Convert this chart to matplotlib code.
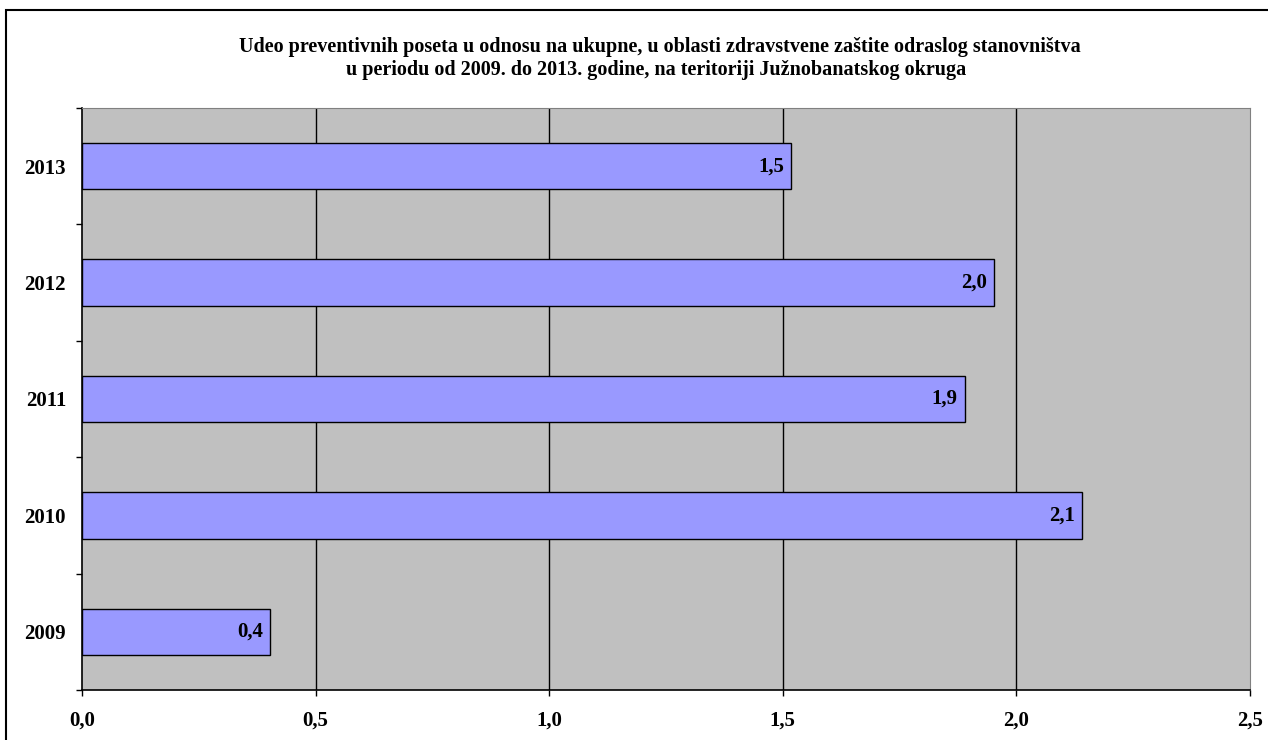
import matplotlib.pyplot as plt
from matplotlib.patches import Rectangle
import numpy as np

years = ["2009", "2010", "2011", "2012", "2013"]
values = [0.403, 2.14, 1.889, 1.953, 1.518]
xticks = [0.0, 0.5, 1.0, 1.5, 2.0, 2.5]

plt.rcParams['font.family'] = ['Liberation Serif', 'DejaVu Serif']
plt.rcParams['font.weight'] = 'bold'

fig = plt.figure(figsize=(12.68, 7.40), dpi=100)
ax = fig.add_axes([82/1268, 1-690/740, (1250-82)/1268, (690-108)/740])
ax.set_facecolor('#C0C0C0')

# figure border
fig.patches.append(Rectangle((6/1268, -0.05), 1.1, 1-10/740+0.05, transform=fig.transFigure,
                             fill=False, edgecolor='black', linewidth=1.5))

y = np.arange(len(years))
for xv in xticks[1:-1]:
    ax.axvline(xv, color='black', linewidth=1, zorder=1)
ax.barh(y, values, height=0.4, color='#9999FF', edgecolor='black', linewidth=1, zorder=2)
for yi, v in zip(y, values):
    ax.annotate(f"{v:.1f}".replace('.', ','), (v, yi), xytext=(-5, 0), textcoords='offset points',
                ha='right', va='center', fontsize=15, fontweight='bold', zorder=3)

ax.set_xlim(0, 2.5)
ax.set_ylim(-0.5, len(years) - 0.5)
ax.set_xticks(xticks)
ax.set_xticklabels([f"{t:.1f}".replace('.', ',') for t in xticks], fontsize=15, fontweight='bold')
ax.set_yticks(y)
ax.set_yticklabels(years, fontsize=15, fontweight='bold')
ax.set_yticks(np.arange(-0.5, len(years)), minor=True)
ax.tick_params(axis='y', which='major', length=0, pad=11.5)
ax.tick_params(axis='y', which='minor', length=4.5, width=1, direction='out')
ax.tick_params(axis='x', which='major', length=4.5, width=1, direction='out', pad=10)

for s in ['top', 'right']:
    ax.spines[s].set_color('#808080')
for s in ['left', 'bottom']:
    ax.spines[s].set_color('black')
    ax.spines[s].set_linewidth(1.2)

fig.text(660/1268, 1-47/740, "Udeo preventivnih poseta u odnosu na ukupne, u oblasti zdravstvene zaštite odraslog stanovništva",
         ha='center', va='center', fontsize=14.5, fontweight='bold')
fig.text(656/1268, 1-70/740, "u periodu od 2009. do 2013. godine, na teritoriji Južnobanatskog okruga",
         ha='center', va='center', fontsize=14.5, fontweight='bold')

fig.savefig('out.png', dpi=100)
